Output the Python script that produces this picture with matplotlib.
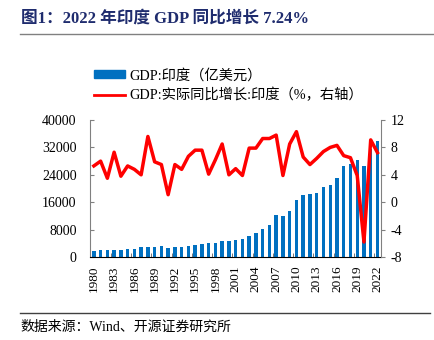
import numpy as np
import matplotlib
matplotlib.use("Agg")
from matplotlib import pyplot as plt
from matplotlib.lines import Line2D
from matplotlib.patches import Patch

plt.rcParams['font.family'] = ['Liberation Serif', 'Noto Sans CJK SC']
plt.rcParams['axes.unicode_minus'] = False

years = list(range(1980, 2023))
# GDP, 亿美元
gdp = [1863, 1935, 2007, 2183, 2122, 2325, 2490, 2790, 2966, 2960,
       3210, 2701, 2882, 2793, 3273, 3603, 3929, 4159, 4214, 4588,
       4684, 4854, 5149, 6077, 7091, 8204, 9403, 12167, 11989, 13419,
       16756, 18231, 18276, 18567, 20391, 21036, 22948, 26515, 27029, 28356,
       26716, 31503, 33851]
# 实际同比增长, %
growth = [5.3, 6.0, 3.5, 7.3, 3.8, 5.3, 4.8, 4.0, 9.6, 5.9,
          5.5, 1.1, 5.5, 4.8, 6.7, 7.6, 7.6, 4.1, 6.2, 8.5,
          4.0, 4.9, 3.9, 7.9, 7.9, 9.3, 9.3, 9.8, 3.9, 8.5,
          10.3, 6.6, 5.5, 6.4, 7.4, 8.0, 8.3, 6.8, 6.5, 3.9,
          -5.8, 9.1, 7.24]

bar_color = "#0070C0"
line_color = "#FF0000"
x = np.arange(len(years))

fig = plt.figure(figsize=(4.34, 3.40), dpi=100)
ax = fig.add_axes([0.2085, 0.244, 0.8775 - 0.2085, 0.647 - 0.244])
ax.bar(x, gdp, width=0.5, color=bar_color, zorder=2)
ax.set_ylim(0, 40000)
ax.set_yticks([0, 8000, 16000, 24000, 32000, 40000])
ax.set_xlim(-0.5, len(years) - 0.5)
ax.set_xticks(x[::3])
ax.set_xticklabels([str(y) for y in years[::3]], rotation=90, fontsize=9.5)
ax.set_xticks(np.arange(2.5, len(years) - 1, 3), minor=True)
ax.tick_params(axis="x", which="major", length=0, pad=6)
ax.tick_params(axis="x", which="minor", direction="in", length=3, color="#606060")
ax.tick_params(axis="y", direction="in", length=3, pad=10, labelsize=10, color="#808080")

ax2 = ax.twinx()
ax2.plot(x, growth, color=line_color, lw=2.5, zorder=3)
ax2.set_ylim(-8, 12)
ax2.set_yticks([-8, -4, 0, 4, 8, 12])
ax2.tick_params(axis="y", direction="out", length=3, pad=4, labelsize=10, color="#808080")

for a in (ax, ax2):
    a.spines["top"].set_visible(False)
    a.spines["left"].set_color("#808080")
    a.spines["right"].set_color("#808080")
    a.spines["bottom"].set_color("#000000")
ax.spines["right"].set_visible(False)
ax2.spines["left"].set_visible(False)
ax2.spines["bottom"].set_visible(False)

handles = [Patch(color=bar_color), Line2D([], [], color=line_color, lw=2)]
labels = ["GDP:印度（亿美元）", "GDP:实际同比增长:印度（%，右轴）"]
fig.legend(handles, labels, loc="upper left", bbox_to_anchor=(0.2, 0.82),
           frameon=False, fontsize=10.3, handlelength=2.2, handleheight=0.4,
           handletextpad=0.3, labelspacing=0.4, borderpad=0)

fig.text(0.048, 0.945, "图1：2022 年印度 GDP 同比增长 7.24%", fontsize=12,
         fontweight="bold", color="#1F2C6E", va="center", ha="left")
fig.add_artist(Line2D([0.046, 1.0], [0.9, 0.9], color="#808080", lw=1))
fig.add_artist(Line2D([0.046, 0.99], [0.079, 0.079], color="#404040", lw=1))
fig.text(0.048, 0.038, "数据来源：Wind、开源证券研究所", fontsize=10,
         va="center", ha="left")

fig.savefig("out.png", dpi=100)
